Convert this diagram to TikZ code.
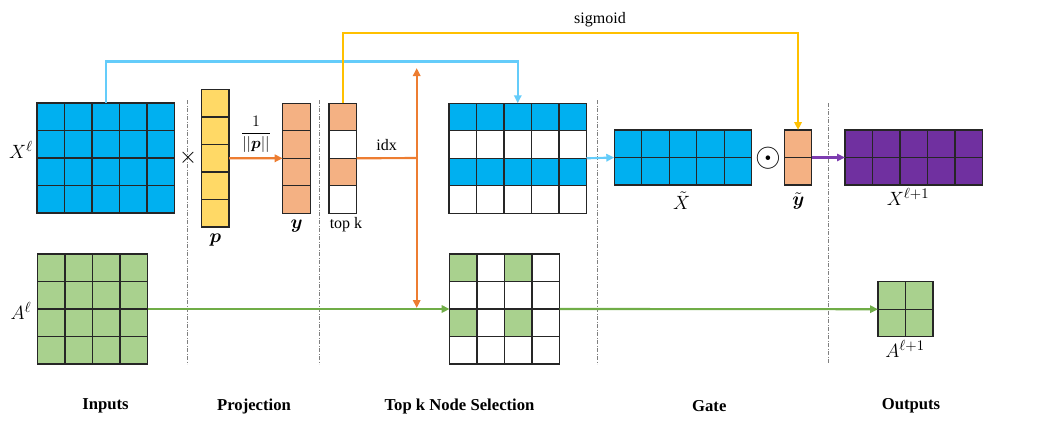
\documentclass[tikz,border=0pt]{standalone}
\usepackage{amsmath}
\usepackage{fontspec}
\setmainfont{Liberation Serif}
\usetikzlibrary{arrows.meta}
\definecolor{mblue}{HTML}{00B0F0}
\definecolor{myellow}{HTML}{FFD966}
\definecolor{msalmon}{HTML}{F4B183}
\definecolor{mgreen}{HTML}{A9D18E}
\definecolor{mpurple}{HTML}{7030A0}
\definecolor{corange}{HTML}{ED7D31}
\definecolor{ccyan}{RGB}{100,204,250}
\definecolor{cyellow}{HTML}{FFC000}
\definecolor{cgreen}{HTML}{70AD47}
\definecolor{cpurple}{HTML}{7D3CB0}
\newcommand\gridbox[6]{%
  \node[gbox, fill=#6, minimum width={#4*20.625pt}, minimum height={#5*20.625pt}] (#1) at (#2,#3) {};}
\newcommand\cellfill[4]{%
  \fill[#4] ([shift={({(#2-1)*27.5},{(#3-1)*27.5})}]#1.north west) rectangle ++(27.5,27.5);}
\newcommand\gridcells[3]{%
  \foreach \c in {1,...,#2}{\foreach \r in {1,...,#3}{%
    \draw[cellline] ([shift={({(\c-1)*27.5},{(\r-1)*27.5})}]#1.north west) rectangle ++(27.5,27.5);}}}
\begin{document}
\begin{tikzpicture}[x=0.75pt,y=-0.75pt,
  gbox/.style={anchor=north west, inner sep=0pt, outer sep=0pt},
  cellline/.style={draw=black!85, line width=1pt},
  conn/.style={line width=1.6pt, -{Triangle[length=6pt,width=5.5pt]}},
  plain/.style={line width=1.6pt},
  sep/.style={draw=gray, line width=0.6pt, dash pattern=on 3pt off 1.2pt on 0.6pt off 1.2pt},
  sect/.style={font=\fontsize{12.5}{14}\selectfont\bfseries},
  mlab/.style={font=\fontsize{15}{17}\selectfont, inner sep=0pt},
  tlab/.style={font=\fontsize{12}{14}\selectfont, inner sep=1pt}]
\useasboundingbox (0,0) rectangle (1044,440);

% separators
\foreach \sx/\sy in {187/100,319.5/100,597.5/100,828/103}
  \draw[sep] (\sx,\sy) -- (\sx,364);

% Inputs
\gridbox{Xl}{37}{103}{5}{4}{mblue}
\gridcells{Xl}{5}{4}
\gridbox{Al}{37.5}{254}{4}{4}{mgreen}
\gridcells{Al}{4}{4}
\node[mlab] (lXl) at (21,150) {$X^{\ell}$};
\node[mlab] (lAl) at (21,311) {$A^{\ell}$};
\node[font=\fontsize{17}{17}\selectfont, inner sep=0pt] (times) at (188,158) {$\times$};

% Projection
\gridbox{p}{201.5}{89.5}{1}{5}{myellow}
\gridcells{p}{1}{5}
\node[mlab] (lp) at (215.5,240) {$\boldsymbol{p}$};
\gridbox{yv}{282.7}{103.3}{1}{4}{msalmon}
\gridcells{yv}{1}{4}
\node[mlab] (ly) at (296.7,226) {$\boldsymbol{y}$};
\node[font=\fontsize{13}{15}\selectfont, inner sep=0pt] (frac) at (256,134) {$\dfrac{1}{||\boldsymbol{p}||}$};

% top k vector
\gridbox{tk}{329}{103.3}{1}{4}{white}
\cellfill{tk}{1}{1}{msalmon}
\cellfill{tk}{1}{3}{msalmon}
\gridcells{tk}{1}{4}
\node[tlab] (ltk) at (346,225) {top k};

% selected matrices
\gridbox{sX}{449}{103.3}{5}{4}{white}
\foreach \cc in {1,...,5}{\cellfill{sX}{\cc}{1}{mblue}\cellfill{sX}{\cc}{3}{mblue}}
\gridcells{sX}{5}{4}
\gridbox{sA}{449.6}{254}{4}{4}{white}
\cellfill{sA}{1}{1}{mgreen}\cellfill{sA}{3}{1}{mgreen}
\cellfill{sA}{1}{3}{mgreen}\cellfill{sA}{3}{3}{mgreen}
\gridcells{sA}{4}{4}

% Gate
\gridbox{Xt}{614.3}{130}{5}{2}{mblue}
\gridcells{Xt}{5}{2}
\node[mlab] (lXt) at (681.7,201) {$\tilde{X}$};
\node[font=\fontsize{26}{26}\selectfont, inner sep=0pt] (odot) at (768.3,158) {$\odot$};
\gridbox{yt}{784.3}{130}{1}{2}{msalmon}
\gridcells{yt}{1}{2}
\node[mlab] (lyt) at (798.3,201) {$\tilde{\boldsymbol{y}}$};

% Outputs
\gridbox{Xn}{845}{130}{5}{2}{mpurple}
\gridcells{Xn}{5}{2}
\node[mlab] (lXn) at (908,197) {$X^{\ell+1}$};
\gridbox{An}{878}{281.7}{2}{2}{mgreen}
\gridcells{An}{2}{2}
\node[mlab] (lAn) at (905,349) {$A^{\ell+1}$};

% connectors
\draw[conn, cgreen] (Al.east) -- (sA.west);
\draw[conn, cgreen] (sA.east) -- (An.west);
\draw[conn, ccyan] (Xl.north) -- ++(0,-41.5) -| (sX.north);
\draw[conn, cyellow] (tk.north) -- ++(0,-70) -| (yt.north);
\node[tlab] (lsig) at (600,20) {sigmoid};
\draw[conn, corange] (p.east) -- (yv.west);
\coordinate (jn) at (416.7,158);
\coordinate (jup) at (416.7,68);
\coordinate (jdn) at (416.7,308);
\draw[plain, corange] (tk.east) -- (jn);
\draw[conn, corange] (jn) -- (jup);
\draw[conn, corange] (jn) -- (jdn);
\node[tlab] (lidx) at (386.7,145) {idx};
\draw[conn, ccyan] (sX.east) -- (Xt.west);
\draw[conn, cpurple] (yt.east) -- (Xn.west);

% section titles
\node[sect] (s1) at (105.5,406) {Inputs};
\node[sect] (s2) at (254,406) {Projection};
\node[sect] (s3) at (459.5,406) {Top k Node Selection};
\node[sect] (s4) at (709.3,406) {Gate};
\node[sect] (s5) at (911,406) {Outputs};
\end{tikzpicture}
\end{document}
